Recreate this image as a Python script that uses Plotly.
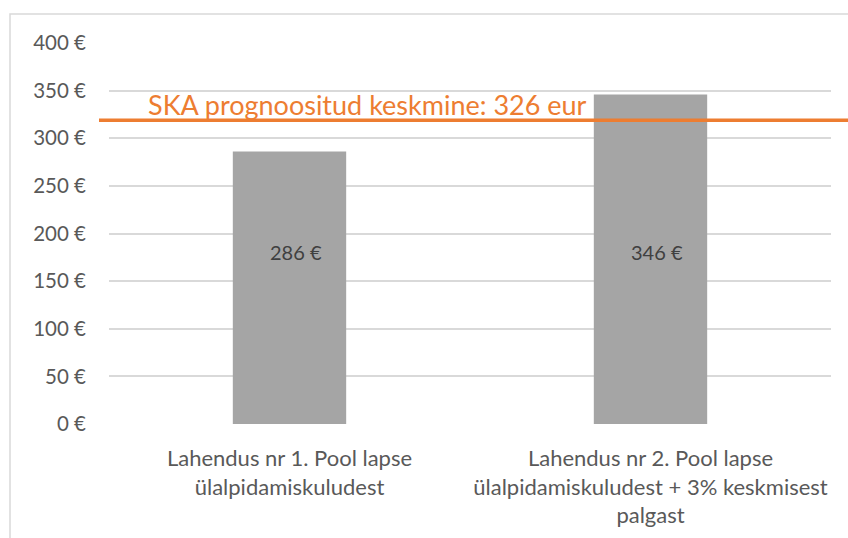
import plotly.graph_objects as go

categories = ["Lahendus nr 1. Pool lapse<br>ülalpidamiskuludest",
              "Lahendus nr 2. Pool lapse<br>ülalpidamiskuludest + 3% keskmisest<br>palgast"]
values = [286, 346]
value_labels = ["286 €", "346 €"]
ref_value = [319]
ref_label = ["SKA prognoositud keskmine: 326 eur"]
y_ticks = [0, 50, 100, 150, 200, 250, 300, 350, 400]
y_ticktext = [f"{v} €" for v in y_ticks]

FONT = "Lato"
W, H = 848, 538
ml, mr, mt, mb = 109, 17, 43, 114
pw, ph = W - ml - mr, H - mt - mb

def px_x(p):
    return (p - ml) / pw

def px_y(p):
    return (H - mb - p) / ph

fig = go.Figure()
fig.add_trace(go.Bar(
    x=[0, 1], y=values, marker=dict(color="#A5A5A5", line=dict(width=0)),
    width=0.314, hoverinfo="skip"))

for i, t in enumerate(value_labels):
    fig.add_annotation(x=i, y=px_y(252), xref="x", yref="paper", text=t,
                       showarrow=False, xshift=6,
                       font=dict(family=FONT, size=20, color="#404040"))

# outer chart border (extends beyond page at right and bottom)
fig.add_shape(type="rect", xref="paper", yref="paper",
              x0=px_x(10), x1=px_x(860), y0=px_y(560), y1=px_y(14),
              line=dict(color="#D9D9D9", width=1.5), fillcolor="rgba(0,0,0,0)", layer="below")

# reference line
fig.add_shape(type="line", xref="paper", yref="y",
              x0=px_x(99), x1=px_x(860), y0=ref_value[0], y1=ref_value[0],
              line=dict(color="#ED7D31", width=3.5))
fig.add_annotation(x=px_x(146), y=px_y(104), xref="paper", yref="paper",
                   text=ref_label[0], showarrow=False, xanchor="left", yanchor="middle",
                   font=dict(family=FONT, size=27, color="#ED7D31"))

fig.update_layout(
    width=W, height=H, margin=dict(l=ml, r=mr, t=mt, b=mb, autoexpand=False),
    paper_bgcolor="white", plot_bgcolor="white", showlegend=False,
    font=dict(family=FONT, color="#595959"),
    xaxis=dict(range=[-0.5, 1.5], tickvals=[0, 1], ticktext=categories,
               showgrid=False, zeroline=False, showline=False, ticks="",
               automargin=False,
               tickfont=dict(family=FONT, size=22, color="#595959"),
               ticklabelstandoff=19),
    yaxis=dict(range=[0, 400], tickvals=y_ticks, ticktext=y_ticktext,
               showgrid=True, gridcolor="#D9D9D9", gridwidth=1.5,
               zeroline=False, showline=False, ticks="", automargin=False,
               tickfont=dict(family=FONT, size=20.5, color="#595959"),
               ticklabelstandoff=22),
)

fig.write_html("out.html")
